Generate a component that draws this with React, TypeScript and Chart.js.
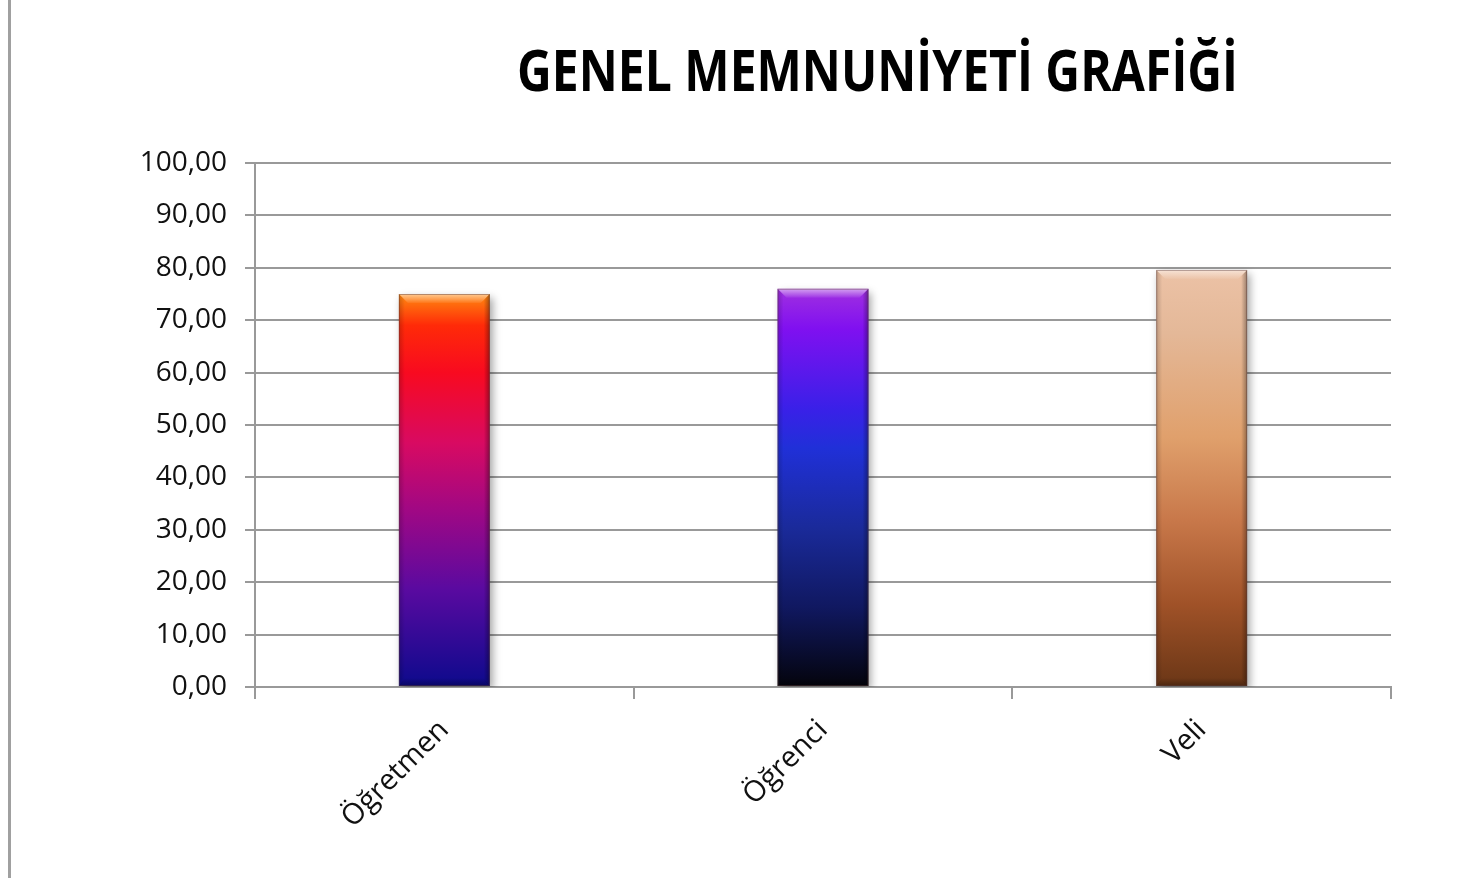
import React, { useEffect, useRef } from "react";
import { Chart, registerables } from "chart.js";

Chart.register(...registerables);

const titleText = "GENEL MEMNUNİYETİ GRAFİĞİ";
const categories = ["Öğretmen", "Öğrenci", "Veli"];
const values = [75.0, 76.0, 79.6];
const yMin = 0;
const yMax = 100;
const yStep = 10;

const gradientStops: [number, string][][] = [
  [
    [0, "#ff8a10"],
    [0.08, "#ff2a08"],
    [0.2, "#f80a20"],
    [0.38, "#d80a62"],
    [0.55, "#a00884"],
    [0.75, "#5a0aa0"],
    [1, "#0c0a8c"],
  ],
  [
    [0, "#a030e0"],
    [0.1, "#8010f0"],
    [0.3, "#3a20e8"],
    [0.4, "#2030d8"],
    [0.6, "#1a2a9a"],
    [0.8, "#101860"],
    [1, "#04040c"],
  ],
  [
    [0, "#ecc2a6"],
    [0.15, "#e4b898"],
    [0.4, "#e0a06c"],
    [0.6, "#c8784a"],
    [0.8, "#a05228"],
    [1, "#6a3616"],
  ],
];

const titlePlugin = {
  id: "condensedTitle",
  afterDraw(chart: any) {
    const ctx = chart.ctx;
    ctx.save();
    ctx.font = "bold 58px 'Open Sans', sans-serif";
    ctx.fillStyle = "#000";
    ctx.textBaseline = "alphabetic";
    const w = ctx.measureText(titleText).width;
    const target = 721;
    const sx = target / w;
    ctx.translate(517, 91);
    ctx.scale(sx, 1);
    ctx.fillText(titleText, 0, 0);
    ctx.restore();
  },
};

const bevelPlugin = {
  id: "bevel",
  beforeDatasetsDraw(chart: any) {
    const ctx = chart.ctx;
    ctx.save();
    ctx.shadowColor = "rgba(0,0,0,0.35)";
    ctx.shadowBlur = 8;
    ctx.shadowOffsetX = 3;
    ctx.shadowOffsetY = 4;
  },
  afterDatasetsDraw(chart: any) {
    const ctx = chart.ctx;
    ctx.restore();
    const meta = chart.getDatasetMeta(0);
    meta.data.forEach((el: any) => {
      const p = el.getProps(["x", "y", "base", "width"], true);
      const l = p.x - p.width / 2;
      const r = p.x + p.width / 2;
      const t = p.y;
      const b = p.base;
      const bv = 9;
      ctx.save();
      let g = ctx.createLinearGradient(0, t, 0, t + bv);
      g.addColorStop(0, "rgba(255,255,255,0.55)");
      g.addColorStop(1, "rgba(255,255,255,0.05)");
      ctx.fillStyle = g;
      ctx.beginPath();
      ctx.moveTo(l, t);
      ctx.lineTo(r, t);
      ctx.lineTo(r - bv, t + bv);
      ctx.lineTo(l + bv, t + bv);
      ctx.closePath();
      ctx.fill();
      g = ctx.createLinearGradient(l, 0, l + 6, 0);
      g.addColorStop(0, "rgba(0,0,0,0.18)");
      g.addColorStop(1, "rgba(0,0,0,0)");
      ctx.fillStyle = g;
      ctx.beginPath();
      ctx.moveTo(l, t);
      ctx.lineTo(l + bv, t + bv);
      ctx.lineTo(l + 6, b - 6);
      ctx.lineTo(l, b);
      ctx.closePath();
      ctx.fill();
      g = ctx.createLinearGradient(r - 6, 0, r, 0);
      g.addColorStop(0, "rgba(0,0,0,0)");
      g.addColorStop(1, "rgba(0,0,0,0.35)");
      ctx.fillStyle = g;
      ctx.beginPath();
      ctx.moveTo(r, t);
      ctx.lineTo(r - bv, t + bv);
      ctx.lineTo(r - 6, b - 6);
      ctx.lineTo(r, b);
      ctx.closePath();
      ctx.fill();
      g = ctx.createLinearGradient(0, b - 8, 0, b);
      g.addColorStop(0, "rgba(0,0,0,0)");
      g.addColorStop(1, "rgba(0,0,0,0.3)");
      ctx.fillStyle = g;
      ctx.beginPath();
      ctx.moveTo(l, b);
      ctx.lineTo(l + 6, b - 8);
      ctx.lineTo(r - 6, b - 8);
      ctx.lineTo(r, b);
      ctx.closePath();
      ctx.fill();
      ctx.strokeStyle = "rgba(90,60,60,0.45)";
      ctx.lineWidth = 1;
      ctx.strokeRect(l + 0.5, t + 0.5, p.width - 1, b - t - 1);
      ctx.restore();
    });
  },
};

export default function App() {
  const ref = useRef<HTMLCanvasElement | null>(null);

  useEffect(() => {
    if (!ref.current) return;
    const chart = new Chart(ref.current, {
      type: "bar",
      data: {
        labels: categories,
        datasets: [
          {
            data: values,
            barPercentage: 0.24,
            categoryPercentage: 1,
            borderWidth: 0,
            backgroundColor: (c: any) => {
              const ch = c.chart;
              const area = ch.chartArea;
              if (!area || c.dataIndex === undefined) return "#888";
              const ys = ch.scales.y;
              const top = ys.getPixelForValue(values[c.dataIndex]);
              const base = ys.getPixelForValue(0);
              const g = ch.ctx.createLinearGradient(0, top, 0, base);
              gradientStops[c.dataIndex].forEach(([o, col]) => g.addColorStop(o, col));
              return g;
            },
          },
        ],
      },
      options: {
        animation: false,
        responsive: false,
        maintainAspectRatio: false,
        layout: { padding: { top: 163, right: 78, bottom: 0, left: 0 } },
        plugins: {
          legend: { display: false },
          title: { display: false },
          tooltip: { enabled: false },
        },
        scales: {
          x: {
            grid: {
              display: true,
              drawOnChartArea: false,
              drawTicks: true,
              tickLength: 12,
              color: "#999",
              lineWidth: 2,
              offset: true,
            },
            border: { display: true, color: "#999", width: 2 },
            ticks: {
              color: "#111",
              font: { family: "'Open Sans', sans-serif", size: 29 },
              maxRotation: 45,
              minRotation: 45,
              padding: 14,
            },
            afterFit: (s: any) => {
              s.height = 191;
            },
          },
          y: {
            min: yMin,
            max: yMax,
            grid: {
              color: "#999",
              lineWidth: 2,
              tickLength: 10,
            },
            border: { display: true, color: "#999", width: 2 },
            ticks: {
              stepSize: yStep,
              color: "#111",
              padding: 18,
              font: { family: "'Open Sans', sans-serif", size: 28 },
              callback: (v: any) => Number(v).toFixed(2).replace(".", ","),
            },
            afterFit: (s: any) => {
              s.width = 255;
            },
          },
        },
      },
      plugins: [titlePlugin, bevelPlugin],
    });
    return () => chart.destroy();
  }, []);

  return (
    <div style={{ position: "absolute", left: 0, top: 0, width: 1469, height: 878, background: "#fff" }}>
      <div style={{ position: "absolute", left: 8, top: 0, width: 3, height: 878, background: "#a0a0a0" }} />
      <canvas ref={ref} width={1469} height={878} style={{ position: "absolute", left: 0, top: 0 }} />
    </div>
  );
}
